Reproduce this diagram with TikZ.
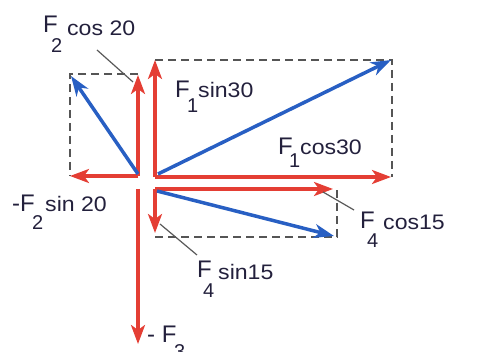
\documentclass[tikz,border=0pt]{standalone}
\usepackage{fontspec}
\setmainfont{Liberation Sans}
\newfontfamily\labfont[FakeStretch=1.1]{Liberation Sans}
\usetikzlibrary{arrows.meta}
\definecolor{redc}{RGB}{228,62,52}
\definecolor{bluec}{RGB}{40,95,195}
\definecolor{labcol}{RGB}{35,32,60}
\definecolor{dashcol}{RGB}{85,85,85}
\newcommand{\flabel}[7]{%
 \rlap{\fontsize{24}{24}\selectfont #1}%
 \hspace*{#4}\rlap{\raisebox{#5}{\fontsize{20}{20}\selectfont #2}}%
 \hspace*{#6}\raisebox{#7}{\labfont\fontsize{21}{21}\selectfont #3}}
\tikzset{
 redarrow/.style={draw=redc, line width=3.2pt, -{Stealth[length=19pt,width=14pt,inset=5pt]}},
 bluearrow/.style={draw=bluec, line width=3.5pt, -{Stealth[length=20pt,width=14pt,inset=6pt]}},
 dashbox/.style={draw=dashcol, line width=1.5pt, dash pattern=on 8pt off 5pt},
 leader/.style={draw=black!65, line width=1.2pt},
 lab/.style={anchor=base west, inner sep=0pt, text=labcol},
}
\begin{document}
\begin{tikzpicture}[x=1pt,y=-1pt]
\useasboundingbox (0,0) rectangle (485,352);
% origins
\coordinate (O2) at (138,176);
\coordinate (O1) at (155,177);
\coordinate (O4) at (155,189);
\coordinate (O3) at (138,189);
% tips
\coordinate (F2tip) at (71,76);
\coordinate (F2y) at (138,75);
\coordinate (F2x) at (70,176);
\coordinate (F1tip) at (391,60);
\coordinate (F1y) at (155,60);
\coordinate (F1x) at (391,177);
\coordinate (F4tip) at (334,236);
\coordinate (F4x) at (333,189);
\coordinate (F4y) at (155,233);
\coordinate (F3tip) at (138,344);
% box corners
\coordinate (B2a) at (70,74);
\coordinate (B1a) at (392,60);
\coordinate (B4a) at (337,237);
% dashed boxes
\draw[dashbox] (F2y |- B2a) -- (B2a) -- (F2x);
\draw[dashbox] (F1y) -- (B1a) -- (B1a |- F1x);
\draw[dashbox] (O4 |- B4a) -- (B4a) -- (B4a |- F4x);
% red components
\draw[redarrow] (O2) -- (F2y);
\draw[redarrow] (O2) -- (F2x);
\draw[redarrow] (O1) -- (F1y);
\draw[redarrow] (O1) -- (F1x);
\draw[redarrow] (O4) -- (F4x);
\draw[redarrow] (O4) -- (F4y);
\draw[redarrow] (O3) -- (F3tip);
% blue forces
\draw[bluearrow] ([shift={(0,-2)}]O2) -- (F2tip);
\draw[bluearrow] ([shift={(3,-3)}]O1) -- (F1tip);
\draw[bluearrow] ([shift={(2,2)}]O4) -- (F4tip);
% labels
\node[lab] (L2c) at (43,33) {\flabel{F}{2}{cos 20}{8pt}{-20pt}{16pt}{-3pt}};
\node[lab] (L1s) at (175,98) {\flabel{F}{1}{sin30}{12pt}{-15pt}{11pt}{0pt}};
\node[lab] (L1c) at (278,155) {\flabel{F}{1}{cos30}{11pt}{-13pt}{11pt}{0pt}};
\node[lab] (L2s) at (12,212) {\flabel{-F}{2}{sin 20}{20pt}{-18pt}{13pt}{0pt}};
\node[lab] (L4c) at (360,229) {\flabel{F}{4}{cos15}{7pt}{-19pt}{16pt}{-1pt}};
\node[lab] (L4s) at (197,278) {\flabel{F}{4}{sin15}{6pt}{-20pt}{15pt}{-2pt}};
\node[lab] (L3) at (147,343) {\flabel{- F}{3}{}{27pt}{-16pt}{0pt}{0pt}};
% leader lines
\coordinate (k1a) at (97,50);  \coordinate (k1b) at (133,82);
\coordinate (k2a) at (354,210); \coordinate (k2b) at (323,192);
\coordinate (k3a) at (197,255); \coordinate (k3b) at (160,224);
\draw[leader] (k1a) -- (k1b);
\draw[leader] (k2a) -- (k2b);
\draw[leader] (k3a) -- (k3b);
\end{tikzpicture}
\end{document}
